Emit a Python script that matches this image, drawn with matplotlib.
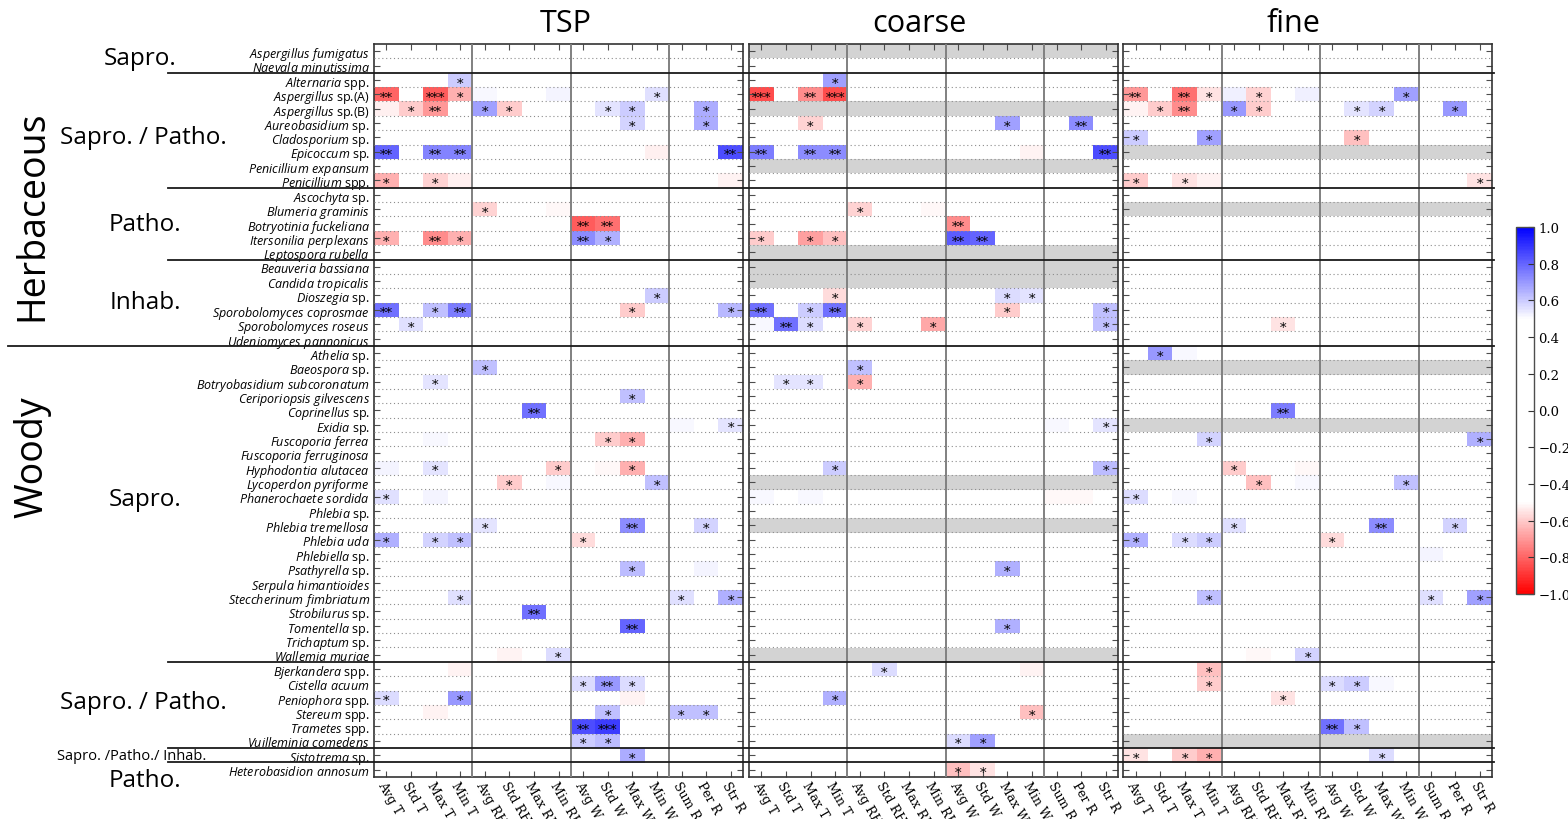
import numpy as np
import matplotlib
matplotlib.use("Agg")
import matplotlib.pyplot as plt
from matplotlib.colors import LinearSegmentedColormap
from matplotlib.lines import Line2D
from matplotlib.transforms import blended_transform_factory

plt.rcParams["font.family"] = "Open Sans"
plt.rcParams["mathtext.fontset"] = "custom"
plt.rcParams["mathtext.rm"] = "Open Sans"
plt.rcParams["mathtext.it"] = "Open Sans:italic"

VARIABLES = ["Avg T", "Std T", "Max T", "Min T",
             "Avg RH", "Std RH", "Max RH", "Min RH",
             "Avg W", "Std W", "Max W", "Min W",
             "Sum R", "Per R", "Str R"]

SPECIES = [
    "Aspergillus fumigatus", "Naevala minutissima",
    "Alternaria spp.", "Aspergillus sp.(A)", "Aspergillus sp.(B)", "Aureobasidium sp.",
    "Cladosporium sp.", "Epicoccum sp.", "Penicillium expansum", "Penicillium spp.",
    "Ascochyta sp.", "Blumeria graminis", "Botryotinia fuckeliana",
    "Itersonilia perplexans", "Leptospora rubella",
    "Beauveria bassiana", "Candida tropicalis", "Dioszegia sp.",
    "Sporobolomyces coprosmae", "Sporobolomyces roseus", "Udeniomyces pannonicus",
    "Athelia sp.", "Baeospora sp.", "Botryobasidium subcoronatum",
    "Ceriporiopsis gilvescens", "Coprinellus sp.", "Exidia sp.", "Fuscoporia ferrea",
    "Fuscoporia ferruginosa", "Hyphodontia alutacea", "Lycoperdon pyriforme",
    "Phanerochaete sordida", "Phlebia sp.", "Phlebia tremellosa", "Phlebia uda",
    "Phlebiella sp.", "Psathyrella sp.", "Serpula himantioides",
    "Steccherinum fimbriatum", "Strobilurus sp.", "Tomentella sp.", "Trichaptum sp.",
    "Wallemia muriae",
    "Bjerkandera spp.", "Cistella acuum", "Peniophora spp.", "Stereum spp.",
    "Trametes spp.", "Vuilleminia comedens",
    "Sistotrema sp.",
    "Heterobasidion annosum",
]

# substrate groups: (label, first species, last species)
SUBSTRATES = [("Herbaceous", "Aspergillus fumigatus", "Udeniomyces pannonicus"),
              ("Woody", "Athelia sp.", "Heterobasidion annosum")]

# lifestyle groups: (label, first species, last species)
LIFESTYLES = [
    ("Sapro.", "Aspergillus fumigatus", "Naevala minutissima"),
    ("Sapro. / Patho.", "Alternaria spp.", "Penicillium spp."),
    ("Patho.", "Ascochyta sp.", "Leptospora rubella"),
    ("Inhab.", "Beauveria bassiana", "Udeniomyces pannonicus"),
    ("Sapro.", "Athelia sp.", "Wallemia muriae"),
    ("Sapro. / Patho.", "Bjerkandera spp.", "Vuilleminia comedens"),
    ("Sapro. /Patho./ Inhab.", "Sistotrema sp.", "Sistotrema sp."),
    ("Patho.", "Heterobasidion annosum", "Heterobasidion annosum"),
]

PANELS = ["TSP", "coarse", "fine"]

# correlation coefficients (species, variable, r, significance); other cells are ~0
TSP_CELLS = [
    ("Alternaria spp.", "Min T", 0.60, "*"),
    ("Aspergillus sp.(A)", "Avg T", -0.80, "**"),
    ("Aspergillus sp.(A)", "Max T", -0.82, "***"),
    ("Aspergillus sp.(A)", "Min T", -0.65, "*"),
    ("Aspergillus sp.(A)", "Avg RH", 0.51, ""),
    ("Aspergillus sp.(A)", "Min RH", 0.52, ""),
    ("Aspergillus sp.(A)", "Min W", 0.56, "*"),
    ("Aspergillus sp.(B)", "Avg T", -0.53, ""),
    ("Aspergillus sp.(B)", "Std T", -0.60, "*"),
    ("Aspergillus sp.(B)", "Max T", -0.70, "**"),
    ("Aspergillus sp.(B)", "Avg RH", 0.68, "*"),
    ("Aspergillus sp.(B)", "Std RH", -0.60, "*"),
    ("Aspergillus sp.(B)", "Std W", 0.55, "*"),
    ("Aspergillus sp.(B)", "Max W", 0.60, "*"),
    ("Aspergillus sp.(B)", "Per R", 0.66, "*"),
    ("Aureobasidium sp.", "Max W", 0.58, "*"),
    ("Aureobasidium sp.", "Per R", 0.66, "*"),
    ("Epicoccum sp.", "Avg T", 0.80, "**"),
    ("Epicoccum sp.", "Max T", 0.74, "**"),
    ("Epicoccum sp.", "Min T", 0.74, "**"),
    ("Epicoccum sp.", "Min W", -0.53, ""),
    ("Epicoccum sp.", "Str R", 0.85, "**"),
    ("Penicillium spp.", "Avg T", -0.65, "*"),
    ("Penicillium spp.", "Max T", -0.58, "*"),
    ("Penicillium spp.", "Min T", -0.53, ""),
    ("Penicillium spp.", "Str R", -0.52, ""),
    ("Blumeria graminis", "Avg RH", -0.58, "*"),
    ("Blumeria graminis", "Min RH", -0.51, ""),
    ("Botryotinia fuckeliana", "Avg W", -0.82, "**"),
    ("Botryotinia fuckeliana", "Std W", -0.78, "**"),
    ("Itersonilia perplexans", "Avg T", -0.65, "*"),
    ("Itersonilia perplexans", "Max T", -0.72, "**"),
    ("Itersonilia perplexans", "Min T", -0.65, "*"),
    ("Itersonilia perplexans", "Avg W", 0.72, "**"),
    ("Itersonilia perplexans", "Std W", 0.65, "*"),
    ("Dioszegia sp.", "Min W", 0.60, "*"),
    ("Sporobolomyces coprosmae", "Avg T", 0.78, "**"),
    ("Sporobolomyces coprosmae", "Max T", 0.62, "*"),
    ("Sporobolomyces coprosmae", "Min T", 0.75, "**"),
    ("Sporobolomyces coprosmae", "Max W", -0.60, "*"),
    ("Sporobolomyces coprosmae", "Str R", 0.64, "*"),
    ("Sporobolomyces roseus", "Std T", 0.56, "*"),
    ("Baeospora sp.", "Avg RH", 0.62, "*"),
    ("Botryobasidium subcoronatum", "Max T", 0.55, "*"),
    ("Ceriporiopsis gilvescens", "Max W", 0.62, "*"),
    ("Coprinellus sp.", "Max RH", 0.78, "**"),
    ("Exidia sp.", "Sum R", 0.51, ""),
    ("Exidia sp.", "Str R", 0.55, "*"),
    ("Fuscoporia ferrea", "Max T", 0.51, ""),
    ("Fuscoporia ferrea", "Std W", -0.60, "*"),
    ("Fuscoporia ferrea", "Max W", -0.65, "*"),
    ("Hyphodontia alutacea", "Avg T", 0.52, ""),
    ("Hyphodontia alutacea", "Max T", 0.55, "*"),
    ("Hyphodontia alutacea", "Min RH", -0.60, "*"),
    ("Hyphodontia alutacea", "Std W", -0.51, ""),
    ("Hyphodontia alutacea", "Max W", -0.65, "*"),
    ("Lycoperdon pyriforme", "Std RH", -0.60, "*"),
    ("Lycoperdon pyriforme", "Min RH", 0.51, ""),
    ("Lycoperdon pyriforme", "Min W", 0.62, "*"),
    ("Phanerochaete sordida", "Avg T", 0.56, "*"),
    ("Phanerochaete sordida", "Max T", 0.52, ""),
    ("Phlebia tremellosa", "Avg RH", 0.55, "*"),
    ("Phlebia tremellosa", "Max W", 0.72, "**"),
    ("Phlebia tremellosa", "Per R", 0.58, "*"),
    ("Phlebia uda", "Avg T", 0.65, "*"),
    ("Phlebia uda", "Max T", 0.58, "*"),
    ("Phlebia uda", "Min T", 0.62, "*"),
    ("Phlebia uda", "Avg W", -0.57, "*"),
    ("Psathyrella sp.", "Max W", 0.63, "*"),
    ("Psathyrella sp.", "Per R", 0.52, ""),
    ("Steccherinum fimbriatum", "Min T", 0.56, "*"),
    ("Steccherinum fimbriatum", "Sum R", 0.56, "*"),
    ("Steccherinum fimbriatum", "Str R", 0.65, "*"),
    ("Strobilurus sp.", "Max RH", 0.78, "**"),
    ("Tomentella sp.", "Max W", 0.80, "**"),
    ("Wallemia muriae", "Std RH", -0.52, ""),
    ("Wallemia muriae", "Min RH", 0.57, "*"),
    ("Bjerkandera spp.", "Min T", -0.52, ""),
    ("Cistella acuum", "Avg W", 0.57, "*"),
    ("Cistella acuum", "Std W", 0.70, "**"),
    ("Cistella acuum", "Max W", 0.57, "*"),
    ("Peniophora spp.", "Avg T", 0.57, "*"),
    ("Peniophora spp.", "Min T", 0.70, "*"),
    ("Peniophora spp.", "Max W", -0.52, ""),
    ("Stereum spp.", "Max T", -0.52, ""),
    ("Stereum spp.", "Std W", 0.62, "*"),
    ("Stereum spp.", "Sum R", 0.62, "*"),
    ("Stereum spp.", "Per R", 0.62, "*"),
    ("Trametes spp.", "Avg W", 0.85, "**"),
    ("Trametes spp.", "Std W", 0.88, "***"),
    ("Vuilleminia comedens", "Avg W", 0.60, "*"),
    ("Vuilleminia comedens", "Std W", 0.63, "*"),
    ("Sistotrema sp.", "Max W", 0.66, "*"),
]

COARSE_CELLS = [
    ("Alternaria spp.", "Min T", 0.68, "*"),
    ("Aspergillus sp.(A)", "Avg T", -0.85, "***"),
    ("Aspergillus sp.(A)", "Max T", -0.72, "**"),
    ("Aspergillus sp.(A)", "Min T", -0.85, "***"),
    ("Aureobasidium sp.", "Max T", -0.58, "*"),
    ("Aureobasidium sp.", "Max W", 0.68, "*"),
    ("Aureobasidium sp.", "Per R", 0.72, "**"),
    ("Epicoccum sp.", "Avg T", 0.75, "**"),
    ("Epicoccum sp.", "Max T", 0.72, "**"),
    ("Epicoccum sp.", "Min T", 0.72, "**"),
    ("Epicoccum sp.", "Min W", -0.52, ""),
    ("Epicoccum sp.", "Str R", 0.85, "**"),
    ("Blumeria graminis", "Avg RH", -0.58, "*"),
    ("Blumeria graminis", "Min RH", -0.51, ""),
    ("Botryotinia fuckeliana", "Avg W", -0.72, "**"),
    ("Itersonilia perplexans", "Avg T", -0.60, "*"),
    ("Itersonilia perplexans", "Max T", -0.68, "*"),
    ("Itersonilia perplexans", "Min T", -0.62, "*"),
    ("Itersonilia perplexans", "Avg W", 0.82, "**"),
    ("Itersonilia perplexans", "Std W", 0.80, "**"),
    ("Dioszegia sp.", "Min T", -0.57, "*"),
    ("Dioszegia sp.", "Max W", 0.57, "*"),
    ("Dioszegia sp.", "Min W", 0.55, "*"),
    ("Sporobolomyces coprosmae", "Avg T", 0.78, "**"),
    ("Sporobolomyces coprosmae", "Max T", 0.60, "*"),
    ("Sporobolomyces coprosmae", "Min T", 0.78, "**"),
    ("Sporobolomyces coprosmae", "Max W", -0.60, "*"),
    ("Sporobolomyces coprosmae", "Str R", 0.62, "*"),
    ("Sporobolomyces roseus", "Avg T", 0.51, ""),
    ("Sporobolomyces roseus", "Std T", 0.78, "**"),
    ("Sporobolomyces roseus", "Max T", 0.57, "*"),
    ("Sporobolomyces roseus", "Avg RH", -0.58, "*"),
    ("Sporobolomyces roseus", "Min RH", -0.67, "*"),
    ("Sporobolomyces roseus", "Str R", 0.62, "*"),
    ("Baeospora sp.", "Avg RH", 0.62, "*"),
    ("Botryobasidium subcoronatum", "Std T", 0.55, "*"),
    ("Botryobasidium subcoronatum", "Max T", 0.55, "*"),
    ("Botryobasidium subcoronatum", "Avg RH", -0.65, "*"),
    ("Exidia sp.", "Sum R", 0.51, ""),
    ("Exidia sp.", "Str R", 0.55, "*"),
    ("Hyphodontia alutacea", "Min T", 0.60, "*"),
    ("Hyphodontia alutacea", "Str R", 0.63, "*"),
    ("Phanerochaete sordida", "Avg T", 0.51, ""),
    ("Phanerochaete sordida", "Max T", 0.51, ""),
    ("Phanerochaete sordida", "Sum R", -0.51, ""),
    ("Phanerochaete sordida", "Per R", -0.51, ""),
    ("Psathyrella sp.", "Max W", 0.65, "*"),
    ("Tomentella sp.", "Max W", 0.65, "*"),
    ("Bjerkandera spp.", "Std RH", 0.57, "*"),
    ("Bjerkandera spp.", "Min W", -0.52, ""),
    ("Peniophora spp.", "Min T", 0.65, "*"),
    ("Stereum spp.", "Min W", -0.62, "*"),
    ("Vuilleminia comedens", "Avg W", 0.57, "*"),
    ("Vuilleminia comedens", "Std W", 0.68, "*"),
    ("Heterobasidion annosum", "Avg W", -0.62, "*"),
    ("Heterobasidion annosum", "Std W", -0.55, "*"),
]

FINE_CELLS = [
    ("Aspergillus sp.(A)", "Avg T", -0.70, "**"),
    ("Aspergillus sp.(A)", "Max T", -0.78, "**"),
    ("Aspergillus sp.(A)", "Min T", -0.55, "*"),
    ("Aspergillus sp.(A)", "Avg RH", 0.53, ""),
    ("Aspergillus sp.(A)", "Std RH", -0.58, "*"),
    ("Aspergillus sp.(A)", "Min RH", 0.53, ""),
    ("Aspergillus sp.(A)", "Min W", 0.68, "*"),
    ("Aspergillus sp.(B)", "Avg T", -0.52, ""),
    ("Aspergillus sp.(B)", "Std T", -0.60, "*"),
    ("Aspergillus sp.(B)", "Max T", -0.72, "**"),
    ("Aspergillus sp.(B)", "Avg RH", 0.70, "*"),
    ("Aspergillus sp.(B)", "Std RH", -0.60, "*"),
    ("Aspergillus sp.(B)", "Std W", 0.55, "*"),
    ("Aspergillus sp.(B)", "Max W", 0.58, "*"),
    ("Aspergillus sp.(B)", "Per R", 0.70, "*"),
    ("Cladosporium sp.", "Avg T", 0.60, "*"),
    ("Cladosporium sp.", "Min T", 0.68, "*"),
    ("Cladosporium sp.", "Std W", -0.62, "*"),
    ("Penicillium spp.", "Avg T", -0.60, "*"),
    ("Penicillium spp.", "Max T", -0.55, "*"),
    ("Penicillium spp.", "Min T", -0.52, ""),
    ("Penicillium spp.", "Str R", -0.55, "*"),
    ("Sporobolomyces roseus", "Max RH", -0.55, "*"),
    ("Athelia sp.", "Std T", 0.70, "*"),
    ("Athelia sp.", "Max T", 0.51, ""),
    ("Coprinellus sp.", "Max RH", 0.75, "**"),
    ("Fuscoporia ferrea", "Min T", 0.58, "*"),
    ("Fuscoporia ferrea", "Str R", 0.65, "*"),
    ("Hyphodontia alutacea", "Avg RH", -0.60, "*"),
    ("Hyphodontia alutacea", "Min RH", -0.51, ""),
    ("Lycoperdon pyriforme", "Std RH", -0.62, "*"),
    ("Lycoperdon pyriforme", "Min RH", 0.51, ""),
    ("Lycoperdon pyriforme", "Min W", 0.62, "*"),
    ("Phanerochaete sordida", "Avg T", 0.57, "*"),
    ("Phanerochaete sordida", "Max T", 0.51, ""),
    ("Phlebia tremellosa", "Avg RH", 0.56, "*"),
    ("Phlebia tremellosa", "Max W", 0.72, "**"),
    ("Phlebia tremellosa", "Per R", 0.58, "*"),
    ("Phlebia uda", "Avg T", 0.65, "*"),
    ("Phlebia uda", "Max T", 0.57, "*"),
    ("Phlebia uda", "Min T", 0.60, "*"),
    ("Phlebia uda", "Avg W", -0.57, "*"),
    ("Phlebiella sp.", "Sum R", 0.52, ""),
    ("Steccherinum fimbriatum", "Min T", 0.62, "*"),
    ("Steccherinum fimbriatum", "Sum R", 0.56, "*"),
    ("Steccherinum fimbriatum", "Str R", 0.68, "*"),
    ("Wallemia muriae", "Std RH", -0.51, ""),
    ("Wallemia muriae", "Min RH", 0.58, "*"),
    ("Bjerkandera spp.", "Min T", -0.62, "*"),
    ("Cistella acuum", "Min T", -0.60, "*"),
    ("Cistella acuum", "Avg W", 0.57, "*"),
    ("Cistella acuum", "Std W", 0.60, "*"),
    ("Cistella acuum", "Max W", 0.51, ""),
    ("Peniophora spp.", "Max RH", -0.55, "*"),
    ("Trametes spp.", "Avg W", 0.78, "**"),
    ("Trametes spp.", "Std W", 0.62, "*"),
    ("Sistotrema sp.", "Avg T", -0.55, "*"),
    ("Sistotrema sp.", "Max T", -0.60, "*"),
    ("Sistotrema sp.", "Min T", -0.65, "*"),
    ("Sistotrema sp.", "Max W", 0.57, "*"),
]

# species not detected in a size fraction (drawn grey)
COARSE_MISSING = ["Aspergillus fumigatus", "Aspergillus sp.(B)", "Penicillium expansum",
                  "Leptospora rubella", "Beauveria bassiana", "Candida tropicalis",
                  "Lycoperdon pyriforme", "Phlebia tremellosa", "Wallemia muriae"]
FINE_MISSING = ["Epicoccum sp.", "Blumeria graminis", "Baeospora sp.", "Exidia sp.",
                "Vuilleminia comedens"]
TSP_MISSING = []

CBAR_TICKS = [1.0, 0.8, 0.6, 0.4, 0.2, 0.0, -0.2, -0.4, -0.6, -0.8, -1.0]


def build_matrix(cells, missing):
    vals = np.zeros((len(SPECIES), len(VARIABLES)))
    stars = {}
    for sp, var, r, sig in cells:
        i, j = SPECIES.index(sp), VARIABLES.index(var)
        vals[i, j] = r
        if sig:
            stars[(i, j)] = sig
    for sp in missing:
        vals[SPECIES.index(sp), :] = np.nan
    return np.ma.masked_invalid(vals), stars


def species_label(name):
    words = name.split(" ")
    ital = [w for w in words if not w.startswith("sp")]
    plain = [w for w in words if w.startswith("sp")]
    s = r"$\mathit{" + r"\ ".join(ital) + "}$"
    if plain:
        s += " " + " ".join(plain)
    return s


cmap = LinearSegmentedColormap.from_list(
    "rwb", [(0.0, "#ff0000"), (0.25, "#ffffff"), (0.75, "#ffffff"), (1.0, "#0000ff")])
cmap.set_bad("#d3d3d3")

W, H = 1568, 820
fig = plt.figure(figsize=(W / 100, H / 100), dpi=100)

top_px, bot_px = 45, 777.7
panel_left = [374, 749, 1123.3]
panel_w = 369
title_x = [0.52, 0.463, 0.46]
axes = []
data = [build_matrix(TSP_CELLS, TSP_MISSING),
        build_matrix(COARSE_CELLS, COARSE_MISSING),
        build_matrix(FINE_CELLS, FINE_MISSING)]

# row indices after which a group boundary is drawn
boundaries = sorted({SPECIES.index(last) for _, _, last in LIFESTYLES[:-1]})
herb_end = SPECIES.index(SUBSTRATES[0][2])

for k, (name, (vals, stars)) in enumerate(zip(PANELS, data)):
    ax = fig.add_axes([panel_left[k] / W, 1 - bot_px / H, panel_w / W, (bot_px - top_px) / H])
    axes.append(ax)
    im = ax.imshow(vals, cmap=cmap, vmin=-1, vmax=1, aspect="auto",
                   interpolation="nearest")
    for (i, j), s in stars.items():
        ax.text(j, i + 0.22, s, ha="center", va="center", fontsize=9.5,
                family="DejaVu Serif", color="black", zorder=4)

    for b in range(len(SPECIES) - 1):
        if b not in boundaries:
            ax.axhline(b + 0.5, color="0.55", lw=0.8, ls=(0, (1, 2.5)), zorder=3)
    for x in (3.5, 7.5, 11.5):
        ax.axvline(x, color="0.5", lw=1.4, zorder=3)

    ax.set_xlim(-0.5, len(VARIABLES) - 0.5)
    ax.set_ylim(len(SPECIES) - 0.5, -0.5)
    ax.set_xticks(range(len(VARIABLES)))
    ax.set_yticks(range(len(SPECIES)))
    ax.set_xticklabels(VARIABLES, rotation=-60, ha="left", va="top",
                       rotation_mode="anchor", family="DejaVu Serif", fontsize=9)
    if k == 0:
        ax.set_yticklabels([species_label(s) for s in SPECIES], fontsize=9)
    else:
        ax.set_yticklabels([])
    ax.tick_params(direction="in", top=True, right=True, length=4, width=0.8,
                   color="0.3", pad=3)
    ax.tick_params(axis="x", pad=1.5)
    for sp in ax.spines.values():
        sp.set_color("0.2")
        sp.set_linewidth(1.2)
    ttl = ax.set_title(name, fontsize=22, pad=9)
    ttl.set_x(title_x[k])

# group boundaries running across the label column and all three panels
tr = blended_transform_factory(fig.transFigure, axes[0].transData)
for b in boundaries:
    x0 = 8 / W if b == herb_end else 168 / W
    fig.add_artist(Line2D([x0, 1494 / W], [b + 0.5, b + 0.5], transform=tr,
                          color="0.1", lw=1.3, zorder=5))

# lifestyle and substrate labels
label_rows = [0.5, 6.0, 12.0, 17.45, 31.2, 45.3, 49.0, 50.7]
label_x = [140, 143, 145, 145, 145, 143, 132, 145]
for (lab, first, last), row, xpx in zip(LIFESTYLES, label_rows, label_x):
    size = 10.5 if "Inhab" in lab and "/" in lab else 17.5
    t = fig.text(xpx / W, 0, lab, transform=tr, ha="center", va="center", fontsize=size)
    t.set_y(row)

for (lab, first, last), row in zip(SUBSTRATES, [11.4, 28.2]):
    t = fig.text(32 / W, 0, lab, transform=tr, ha="center", va="center",
                 fontsize=27, rotation=90)
    t.set_y(row)

# colour bar
cax = fig.add_axes([1516 / W, 1 - 595 / H, 18 / W, 367 / H])
cb = fig.colorbar(im, cax=cax, ticks=CBAR_TICKS)
cb.ax.set_yticklabels([f"{v:.1f}".replace("-", "\u2212") for v in CBAR_TICKS],
                      family="DejaVu Serif", fontsize=9.5)
cb.ax.tick_params(direction="in", length=4, width=0.8, color="0.2", pad=3)
cb.outline.set_edgecolor("0.3")
cb.outline.set_linewidth(1.0)

fig.savefig("out.png", dpi=100)
